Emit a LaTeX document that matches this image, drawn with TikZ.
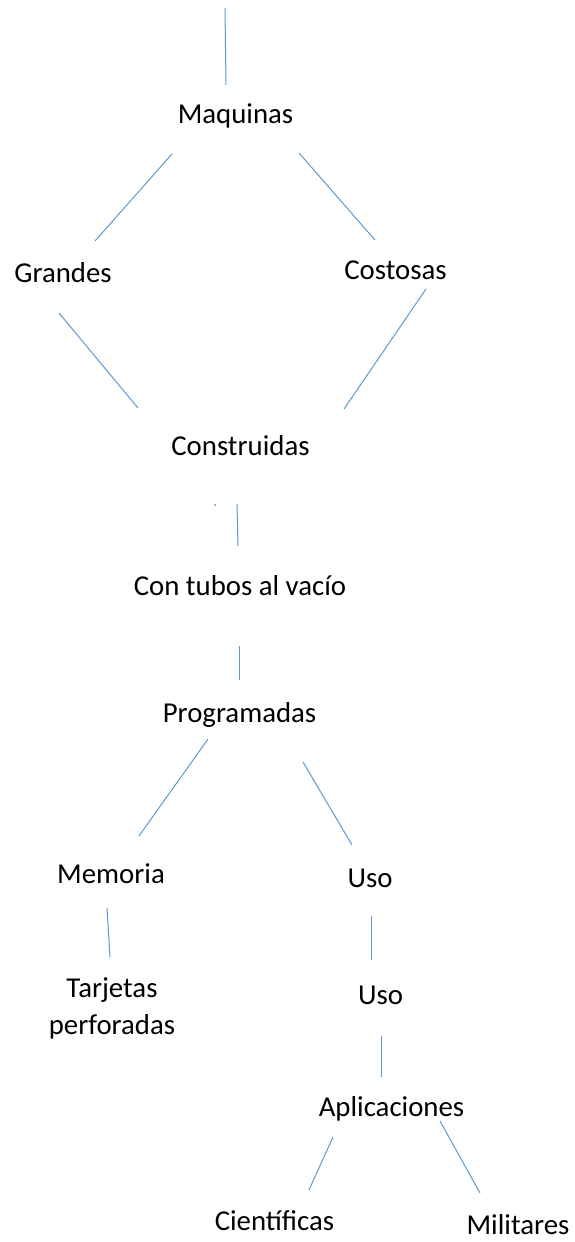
\documentclass[tikz,border=0pt]{standalone}
\usepackage{fontspec}
\setmainfont{Carlito}
\begin{document}
\begin{tikzpicture}[x=1pt,y=-1pt,
  lbl/.style={inner sep=0pt,font=\fontsize{28.8}{37}\selectfont,align=center,text=black,anchor=base},
  link/.style={draw=linkblue,line width=1pt}]
\definecolor{linkblue}{RGB}{91,155,213}
\useasboundingbox[fill=white] (0,0) rectangle (575,1242);
% texts
\node[lbl] (maq) at (235.5,123) {Maquinas};
\node[lbl] (gra) at (63,282) {Grandes};
\node[lbl] (cos) at (395.5,279) {Costosas};
\node[lbl] (con) at (240.5,455) {Construidas};
\node[lbl] (tub) at (240,595) {Con tubos al vacío};
\node[lbl] (pro) at (239.5,722) {Programadas};
\node[lbl] (mem) at (111,883) {Memoria};
\node[lbl] (uso1) at (370,887) {Uso};
\node[lbl,anchor=center] (tar) at (112,1008) {Tarjetas\\perforadas};
\node[lbl] (uso2) at (380.5,1004) {Uso};
\node[lbl] (apl) at (391.5,1116) {Aplicaciones};
\node[lbl] (cie) at (274.5,1230) {Científicas};
\node[lbl] (mil) at (518,1234) {Militares};
% connector end points
\coordinate (t0) at (225,8);   \coordinate (t1) at (226,85);
\coordinate (a0) at (172,154); \coordinate (a1) at (95,241);
\coordinate (b0) at (299,153); \coordinate (b1) at (375,240);
\coordinate (c0) at (59,313);  \coordinate (c1) at (138,408);
\coordinate (d0) at (426,289); \coordinate (d1) at (344,409);
\coordinate (e0) at (237,504); \coordinate (e1) at (238,546);
\coordinate (s0) at (214.5,504); \coordinate (s1) at (216,506);
\coordinate (f0) at (239,646); \coordinate (f1) at (239,680);
\coordinate (g0) at (208,739); \coordinate (g1) at (139,836);
\coordinate (h0) at (303,762); \coordinate (h1) at (352,845);
\coordinate (i0) at (107,908); \coordinate (i1) at (110,957);
\coordinate (j0) at (371,916); \coordinate (j1) at (371,960);
\coordinate (k0) at (381,1036); \coordinate (k1) at (381,1077);
\coordinate (l0) at (333,1137); \coordinate (l1) at (309,1190);
\coordinate (m0) at (440,1121); \coordinate (m1) at (480,1193);
\foreach \p in {t,a,b,c,d,e,s,f,g,h,i,j,k,l,m}
  \draw[link] (\p0) -- (\p1);
\end{tikzpicture}
\end{document}
